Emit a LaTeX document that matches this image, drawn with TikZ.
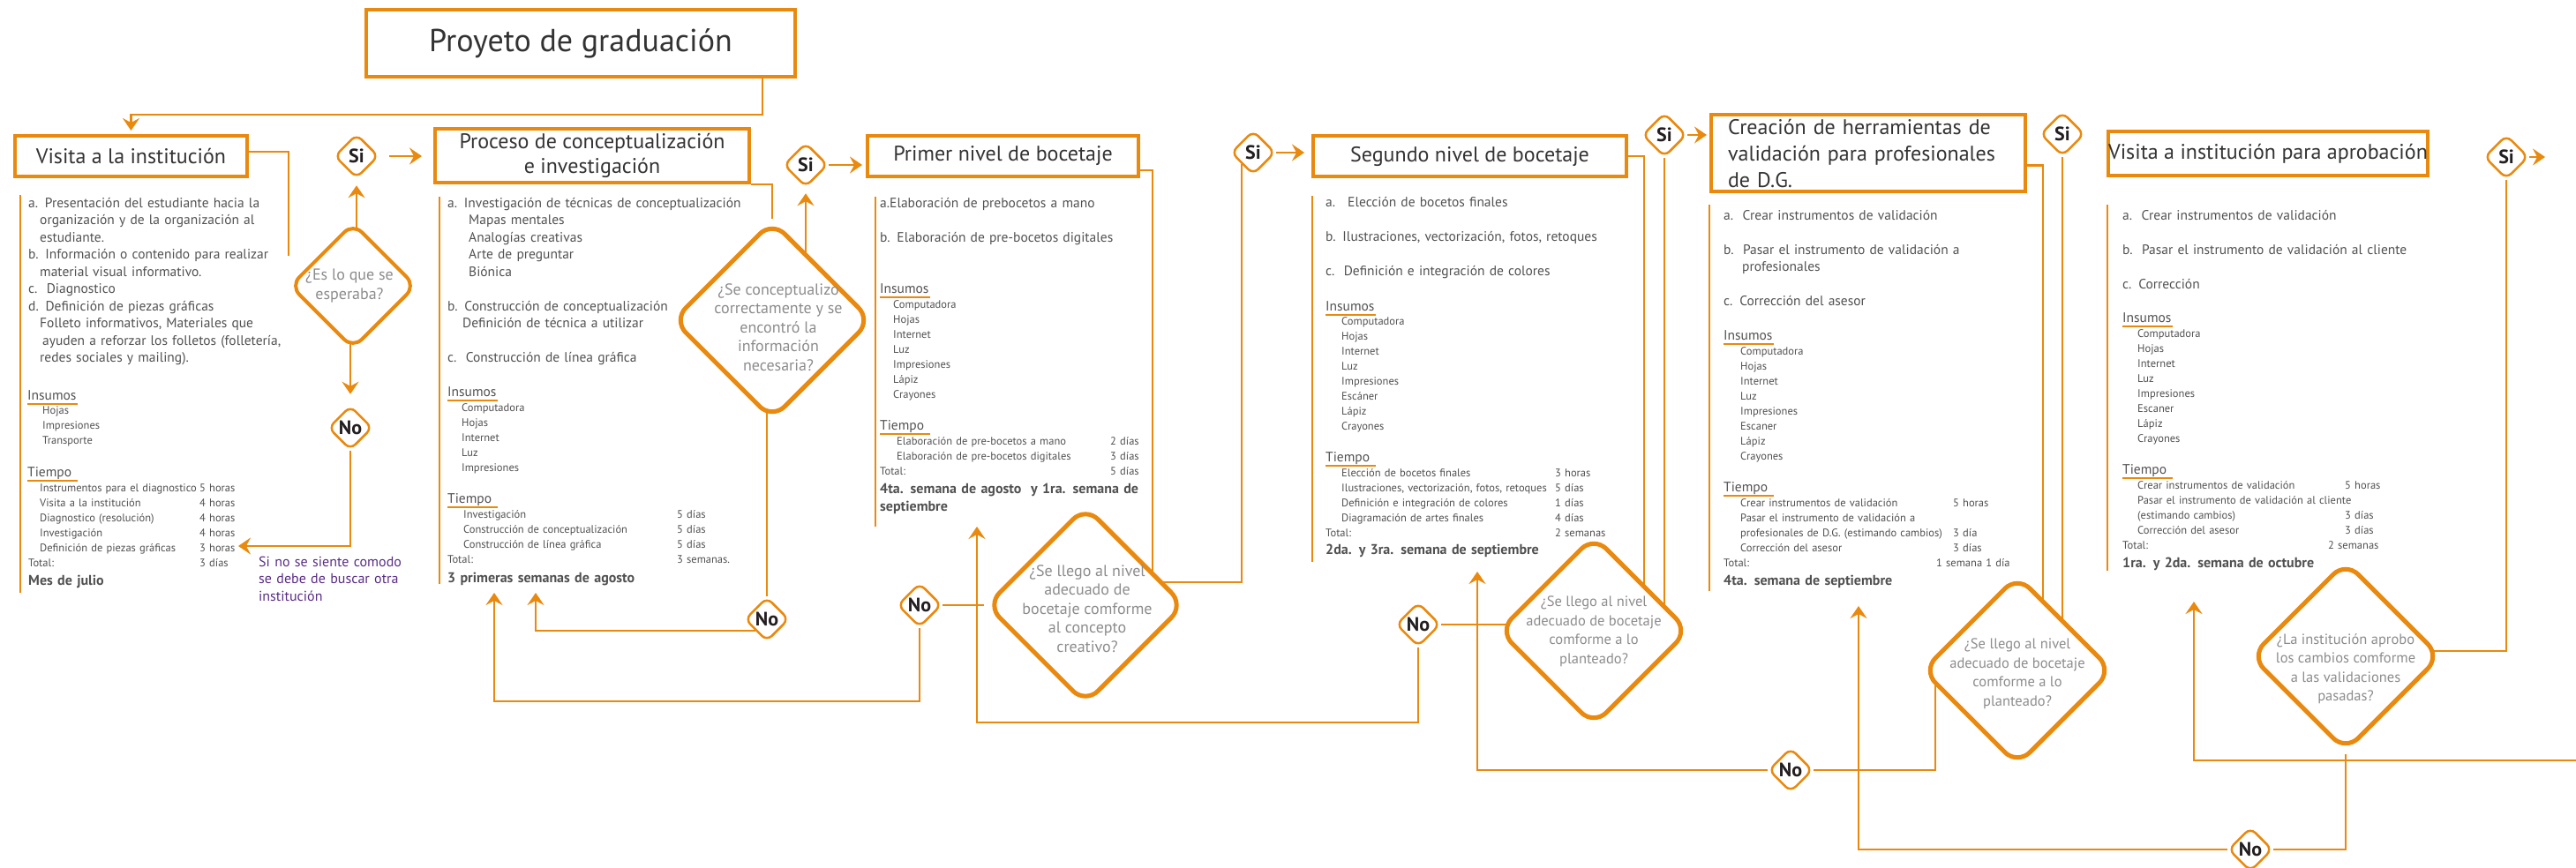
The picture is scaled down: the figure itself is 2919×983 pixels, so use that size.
\documentclass[tikz,border=0pt]{standalone}
\usepackage{fontspec}
\setmainfont{PT Sans}
\usepackage{xcolor}
\usepackage{tikz}
\usetikzlibrary{shapes.geometric,arrows.meta,positioning,calc,backgrounds}

\definecolor{naranja}{RGB}{233,137,14}
\definecolor{tinta}{RGB}{80,80,80}
\definecolor{oscuro}{RGB}{51,51,51}
\definecolor{gris}{RGB}{140,140,140}
\definecolor{negro}{RGB}{35,31,32}
\definecolor{morado}{RGB}{88,44,131}

\begin{document}
\begin{tikzpicture}[
    x=1pt, y=-1pt,
    caja/.style={rectangle, draw=naranja, line width=4pt, fill=white, inner sep=0pt, align=center, text=oscuro, font=\fontsize{24}{28}\selectfont},
    pregunta/.style={diamond, draw=naranja, line width=5pt, rounded corners=20pt, fill=white, inner sep=0pt, minimum width=#1, minimum height=#1},
    pregunta/.default=216pt,
    ptexto/.style={align=center, text=gris, inner sep=0pt, font=\fontsize{18}{21.5}\selectfont},
    pchico/.style={ptexto, font=\fontsize{16.5}{21.5}\selectfont},
    rombo/.style={diamond, draw=naranja, line width=2.5pt, rounded corners=8pt, fill=white, inner sep=0pt, minimum width=50pt, minimum height=50pt, text=negro, font=\bfseries\fontsize{22}{22}\selectfont},
    lista/.style={anchor=base west, inner sep=0pt, text width=480pt, align=left, text=tinta, font=\fontsize{15.5}{19.5}\selectfont},
    menor/.style={lista, font=\fontsize{12.5}{17}\selectfont},
    fecha/.style={lista, font=\bfseries\fontsize{16}{20}\selectfont},
    nota/.style={lista, text=morado, font=\fontsize{16}{19.5}\selectfont},
    seccion/.style={anchor=base west, inner sep=0pt, text=tinta, font=\fontsize{15.5}{19}\selectfont},
    linea/.style={draw=naranja, line width=2.5pt},
    flecha/.style={linea, -{Stealth[length=14pt, width=19pt, inset=5pt]}},
    subraya/.style={draw=naranja, line width=2pt}
]
\useasboundingbox (0,0) rectangle (2919,983);

% Title and step boxes
\node[caja, minimum width=486pt, minimum height=76pt, font=\fontsize{36}{40}\selectfont] (titulo) at (658,49) {Proyeto de graduación};
\node[caja, minimum width=263pt, minimum height=46pt] (visita) at (148.5,177) {Visita a la institución};
\node[caja, minimum width=356pt, minimum height=61pt] (proceso) at (671,176.5) {Proceso de conceptualización\\e investigación};
\node[caja, minimum width=307pt, minimum height=46pt] (primer) at (1136.5,177) {Primer nivel de bocetaje};
\node[caja, minimum width=355pt, minimum height=46pt] (segundo) at (1665.5,177) {Segundo nivel de bocetaje};
\node[caja, minimum width=356pt, minimum height=87pt, text width=318pt, align=left, font=\fontsize{24}{30}\selectfont] (creacion) at (2117,173.5) {Creación de herramientas de\\validación para profesionales\\de D.G.};
\node[caja, minimum width=362pt, minimum height=50pt] (aprob) at (2570,174) {Visita a institución para aprobación};

% Decisions
\node[pregunta=143pt, line width=4pt, rounded corners=14pt] (d1) at (400,324) {};
\node[pregunta=226pt] (d2) at (875,363) {};
\node[pregunta=225pt] (d3) at (1230,686) {};
\node[pregunta] (d4) at (1806,715) {};
\node[pregunta] (d5) at (2286,760) {};
\node[pregunta] (d6) at (2658,744) {};

\node[ptexto] (q1) at ($(d1)+(-4,0)$) {¿Es lo que se\\esperaba?};
\node[ptexto] (q2) at ($(d2)+(7,8)$) {¿Se conceptualizo\\correctamente y se\\encontró la\\información\\necesaria?};
\node[ptexto] (q3) at ($(d3)+(2,4)$) {¿Se llego al nivel\\adecuado de\\bocetaje comforme\\al concepto\\creativo?};
\node[pchico] (q4) at ($(d4)+(0,1)$) {¿Se llego al nivel\\adecuado de bocetaje\\comforme a lo\\planteado?};
\node[pchico] (q5) at ($(d5)+(0,4)$) {¿Se llego al nivel\\adecuado de bocetaje\\comforme a lo\\planteado?};
\node[pchico] (q6) at ($(d6)+(0,14)$) {¿La institución aprobo\\los cambios comforme\\a las validaciones\\pasadas?};

% Si / No
\node[rombo] (si1) at (404,177) {Si};
\node[rombo] (no1) at (397,485) {No};
\node[rombo] (si2) at (913,187) {Si};
\node[rombo] (no2) at (869,702) {No};
\node[rombo] (si3) at (1420,173) {Si};
\node[rombo] (no3) at (1042,686) {No};
\node[rombo] (si4) at (1886,153) {Si};
\node[rombo] (no4) at (1607,708) {No};
\node[rombo] (si5) at (2337,152) {Si};
\node[rombo] (no5) at (2029,873) {No};
\node[rombo] (si6) at (2840,178) {Si};
\node[rombo] (no6) at (2550,963) {No};

% Column 1
\node[lista] (txt1) at (32,235) {a. Presentación del estudiante hacia la\\
\hspace*{13pt}organización y de la organización al\\
\hspace*{13pt}estudiante.\\
b. Información o contenido para realizar\\
\hspace*{13pt}material visual informativo.\\
c.\ \ Diagnostico\\
d. Definición de piezas gráficas\\
\hspace*{13pt}Folleto informativos, Materiales que\\
\hspace*{16pt}ayuden a reforzar los folletos (folletería,\\
\hspace*{13pt}redes sociales y mailing).};
\node[seccion] (ins1) at (31,453) {Insumos};
\node[menor] (mat1) at (48,469) {Hojas\\Impresiones\\Transporte};
\node[seccion] (tie1) at (31,540) {Tiempo};
\node[menor] (act1) at (32,557) {\hspace*{13pt}Instrumentos para el diagnostico\\\hspace*{13pt}Visita a la institución\\\hspace*{13pt}Diagnostico (resolución)\\\hspace*{13pt}Investigación\\\hspace*{13pt}Definición de piezas gráficas\\Total:};
\node[menor] (dur1) at (226,557) {5 horas\\4 horas\\4 horas\\4 horas\\3 horas\\3 días};
\node[fecha] (fec1) at (32,663) {Mes de julio};
\node[nota] (nota1) at (293,642) {Si no se siente comodo\\se debe de buscar otra\\institución};

% Column 2
\node[lista] (txt2) at (507,235) {a. Investigación de técnicas de conceptualización\\
\hspace*{24pt}Mapas mentales\\
\hspace*{24pt}Analogías creativas\\
\hspace*{24pt}Arte de preguntar\\
\hspace*{24pt}Biónica\\[19.5pt]
b. Construcción de conceptualización\\
\hspace*{17pt}Definición de técnica a utilizar\\[19.5pt]
c.\ \ Construcción de línea gráfica};
\node[seccion] (ins2) at (507,449) {Insumos};
\node[menor] (mat2) at (523,466) {Computadora\\Hojas\\Internet\\Luz\\Impresiones};
\node[seccion] (tie2) at (507,570) {Tiempo};
\node[menor] (act2) at (507,587) {\hspace*{18pt}Investigación\\\hspace*{18pt}Construcción de conceptualización\\\hspace*{18pt}Construcción de línea gráfica\\Total:};
\node[menor] (dur2) at (767,587) {5 días\\5 días\\5 días\\3 semanas.};
\node[fecha] (fec2) at (507,660) {3 primeras semanas de agosto};

% Column 3
\node[lista] (txt3) at (997,235) {a.Elaboración de prebocetos a mano\\[19.5pt]
b. Elaboración de pre-bocetos digitales};
\node[seccion] (ins3) at (997,332) {Insumos};
\node[menor] (mat3) at (1012,349) {Computadora\\Hojas\\Internet\\Luz\\Impresiones\\Lápiz\\Crayones};
\node[seccion] (tie3) at (997,487) {Tiempo};
\node[menor] (act3) at (997,504) {\hspace*{19pt}Elaboración de pre-bocetos a mano\\\hspace*{19pt}Elaboración de pre-bocetos digitales\\Total:};
\node[menor] (dur3) at (1258,504) {2 días\\3 días\\5 días};
\node[fecha] (fec3) at (997,559) {4ta. semana de agosto\ \ y 1ra. semana de\\septiembre};

% Column 4
\node[lista] (txt4) at (1502,234) {a.\hspace{14pt}Elección de bocetos finales\\[19.5pt]
b. Ilustraciones, vectorización, fotos, retoques\\[19.5pt]
c.\ \ Definición e integración de colores};
\node[seccion] (ins4) at (1502,352) {Insumos};
\node[menor] (mat4) at (1520,368) {Computadora\\Hojas\\Internet\\Luz\\Impresiones\\Escáner\\Lápiz\\Crayones};
\node[seccion] (tie4) at (1502,523) {Tiempo};
\node[menor] (act4) at (1502,540) {\hspace*{18pt}Elección de bocetos finales\\\hspace*{18pt}Ilustraciones, vectorización, fotos, retoques\\\hspace*{18pt}Definición e integración de colores\\\hspace*{18pt}Diagramación de artes finales\\Total:};
\node[menor] (dur4) at (1762,540) {3 horas\\5 días\\1 días\\4 días\\2 semanas};
\node[fecha] (fec4) at (1502,628) {2da. y 3ra. semana de septiembre};

% Column 5
\node[lista] (txt5) at (1953,249) {a.\ \ Crear instrumentos de validación\\[19.5pt]
b.\ \ Pasar el instrumento de validación a\\
\hspace*{21pt}profesionales\\[19.5pt]
c. Corrección del asesor};
\node[seccion] (ins5) at (1953,385) {Insumos};
\node[menor] (mat5) at (1972,402) {Computadora\\Hojas\\Internet\\Luz\\Impresiones\\Escaner\\Lápiz\\Crayones};
\node[seccion] (tie5) at (1953,557) {Tiempo};
\node[menor] (act5) at (1953,574) {\hspace*{19pt}Crear instrumentos de validación\\\hspace*{19pt}Pasar el instrumento de validación a\\\hspace*{19pt}profesionales de D.G. (estimando cambios)\\\hspace*{19pt}Corrección del asesor\\Total:};
\node[menor] (dur5) at (2213,574) {5 horas\\[17pt]3 día\\3 días\\\hspace*{-19pt}1 semana 1 día};
\node[fecha] (fec5) at (1953,663) {4ta. semana de septiembre};

% Column 6
\node[lista] (txt6) at (2405,249) {a.\ \ Crear instrumentos de validación\\[19.5pt]
b.\ \ Pasar el instrumento de validación al cliente\\[19.5pt]
c. Corrección};
\node[seccion] (ins6) at (2405,365) {Insumos};
\node[menor] (mat6) at (2422,382) {Computadora\\Hojas\\Internet\\Luz\\Impresiones\\Escaner\\Lápiz\\Crayones};
\node[seccion] (tie6) at (2405,537) {Tiempo};
\node[menor] (act6) at (2405,554) {\hspace*{17pt}Crear instrumentos de validación\\\hspace*{17pt}Pasar el instrumento de validación al cliente\\\hspace*{17pt}(estimando cambios)\\\hspace*{17pt}Corrección del asesor\\Total:};
\node[menor] (dur6) at (2657,554) {5 horas\\[17pt]3 días\\3 días\\\hspace*{-19pt}2 semanas};
\node[fecha] (fec6) at (2405,643) {1ra. y 2da. semana de octubre};

% Underlines and column rules
\foreach \n in {ins1,tie1,ins2,tie2,ins3,tie3,ins4,tie4,ins5,tie5,ins6,tie6}
    \draw[subraya] ([yshift=-4.5pt]\n.base west) -- ++(57,0);
\foreach \x/\a/\b in {23/221/672, 498/223/662, 992/223/597, 1487/222/637, 1937/232/670, 2388/232/647}
    \draw[linea] (\x,\a) -- (\x,\b);

% Free ends
\coordinate (c1) at (327,290);
\coordinate (f1) at (270,619);
\coordinate (f2) at (607,672);
\coordinate (f3) at (560,672);
\coordinate (f4) at (1107,597);
\coordinate (f5) at (1674,648);
\coordinate (f6) at (2106,687);
\coordinate (f7) at (2884,178);
\coordinate (f8) at (2486,682);
\coordinate (borde) at (2919,862);

% Connectors
\begin{scope}[on background layer]
\draw[flecha, shorten >=4pt] ([xshift=-39pt]titulo.south east) -- ++(0,41) -| (visita.north);
\draw[linea] ([yshift=5pt]visita.east) -| (c1);
\draw[flecha, shorten >=7pt] (si1 |- d1) -- (si1);
\draw[flecha, shorten <=11pt, shorten >=13pt] (si1.east) -- (si1.east -| proceso.west);
\draw[flecha, shorten >=12pt] (no1 |- d1) -- (no1);
\draw[flecha] (no1) |- (f1);

\draw[linea] (proceso.south east) -| (d2);
\draw[flecha, shorten >=6pt] (si2 |- d2) -- (si2);
\draw[flecha, shorten >=4pt] (si2.east) -- (si2.east -| primer.west);
\draw[linea] (no2 |- d2) -- (no2);
\draw[flecha] (no2.south west) -| (f2);

\draw[linea] ([yshift=-16pt]primer.east) -| ($(d3)+(76,0)$);
\draw[linea] (no3) -- (d3);
\draw[flecha] (no3) -- ++(0,109) -| (f3);
\draw[linea] ($(d3)+(0,-26)$) -| (si3.south west);
\draw[flecha, shorten >=8pt] (si3.east) -- (si3.east -| segundo.west);

\draw[linea] (segundo.east) -| ($(d4)+(57,0)$);
\draw[linea] (no4) -- (no4 -| d4);
\draw[flecha] (no4) -- ++(0,111) -| (f4);
\draw[linea] (si4) -- (si4 |- d4);
\draw[flecha, shorten >=3pt] (si4.east) -- (si4.east -| creacion.west);

\draw[linea] ([yshift=-14pt]creacion.east) -| ($(d5)+(29,0)$);
\draw[linea] (si5) -- (si5 |- d5);
\draw[flecha] ($(d5)+(-93,0)$) |- (no5) -| (f5);

\draw[linea] (si6) |- ($(d6)+(0,-6)$);
\draw[flecha] (si6.east) -- (f7);
\draw[flecha] (d6) |- (no6) -| (f6);
\draw[flecha] (borde) -| (f8);
\end{scope}

\end{tikzpicture}
\end{document}
